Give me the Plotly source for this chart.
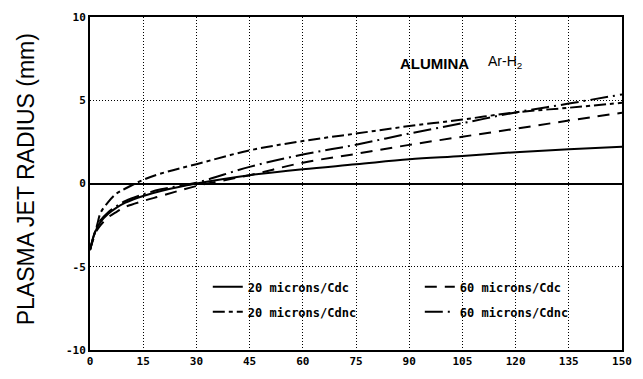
import plotly.graph_objects as go

x_vals = [0, 1, 2, 3, 5, 7.5, 10, 15, 20, 30, 45, 60, 75, 90, 105, 120, 135, 150]

r_20_cdc = [-4.0, -3.2, -2.65, -2.3, -1.85, -1.45, -1.15, -0.75, -0.45, 0.0, 0.5, 0.86, 1.15, 1.45, 1.65, 1.88, 2.05, 2.2]
r_60_cdc = [-4.0, -3.3, -2.8, -2.5, -2.05, -1.7, -1.4, -1.05, -0.75, -0.15, 0.5, 1.25, 1.78, 2.32, 2.81, 3.29, 3.78, 4.25]
r_20_cdnc = [-4.0, -3.2, -2.5, -1.75, -1.15, -0.6, -0.3, 0.22, 0.6, 1.16, 1.99, 2.55, 3.0, 3.45, 3.84, 4.27, 4.55, 4.85]
r_60_cdnc = [-4.0, -3.15, -2.6, -2.2, -1.75, -1.35, -1.05, -0.65, -0.35, 0.05, 1.0, 1.74, 2.33, 3.0, 3.62, 4.27, 4.8, 5.35]

x_ticks = [0, 15, 30, 45, 60, 75, 90, 105, 120, 135, 150]
y_ticks = [-10, -5, 0, 5, 10]

mono = "DejaVu Sans Mono"
sans = "Liberation Sans"

fig = go.Figure()

series = [
    ("20 microns/Cdc", r_20_cdc, "solid", "legend", "g1"),
    ("20 microns/Cdnc", r_20_cdnc, "12px,4px,4px,4px", "legend", "g2"),
    ("60 microns/Cdc", r_60_cdc, "12px,8px", "legend2", "g3"),
    ("60 microns/Cdnc", r_60_cdnc, "18px,5px,2px,5px", "legend2", "g4"),
]
for name, ys, dash, leg, grp in series:
    fig.add_trace(go.Scatter(
        x=x_vals, y=ys, mode="lines", name=name,
        line=dict(color="black", width=2, dash=dash, shape="spline"),
        legend=leg, legendgroup=grp,
    ))

legend_common = dict(
    orientation="v", bgcolor="rgba(0,0,0,0)", borderwidth=0,
    font=dict(family=mono, size=12, color="black", weight="bold"),
    tracegroupgap=6, xanchor="left", yanchor="top", itemwidth=30,
)

fig.update_layout(
    width=643, height=379,
    margin=dict(l=90, r=11, t=15, b=21),
    paper_bgcolor="white", plot_bgcolor="white",
    showlegend=True,
    legend=dict(x=(210 - 90) / 542, y=(358 - 278) / 343, **legend_common),
    legend2=dict(x=(426 - 90) / 542, y=(358 - 278) / 343, **legend_common),
    xaxis=dict(
        range=[0, 150], tickvals=x_ticks, ticktext=[str(v) for v in x_ticks],
        showgrid=True, gridcolor="black", griddash="1px,2px", gridwidth=1,
        showline=True, linecolor="black", linewidth=2, mirror=True,
        zeroline=False, ticks="",
        tickfont=dict(family=mono, size=11, color="black", weight="bold"),
    ),
    yaxis=dict(
        range=[-10, 10], tickvals=y_ticks, ticktext=[str(v) for v in y_ticks],
        showgrid=True, gridcolor="black", griddash="1px,2px", gridwidth=1,
        showline=True, linecolor="black", linewidth=2, mirror=True,
        zeroline=True, zerolinecolor="black", zerolinewidth=1.5, ticks="",
        tickfont=dict(family=mono, size=11, color="black", weight="bold"),
    ),
    annotations=[
        dict(text="PLASMA JET RADIUS (mm)", textangle=-90, xref="paper", yref="paper",
             x=(25 - 90) / 542, y=(358 - 182) / 343, xanchor="center", yanchor="middle",
             showarrow=False, font=dict(family=sans, size=23, color="black")),
        dict(text="<b>ALUMINA</b>", xref="paper", yref="paper",
             x=(441 - 90) / 542, y=(358 - 63) / 343, xanchor="center", yanchor="middle",
             showarrow=False, font=dict(family=sans, size=15, color="black")),
        dict(text="Ar-H<sub>2</sub>", xref="paper", yref="paper",
             x=(493 - 90) / 542, y=(358 - 61) / 343, xanchor="left", yanchor="middle",
             showarrow=False, font=dict(family=sans, size=14, color="black")),
    ],
)

fig.write_html("out.html")
